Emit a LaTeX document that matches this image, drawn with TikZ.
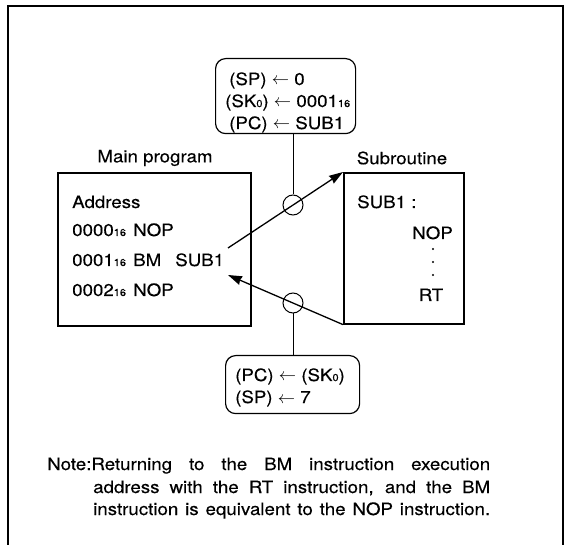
\documentclass[tikz,border=0pt]{standalone}
\usepackage{fontspec}
\setmainfont[FakeStretch=1.1,FakeBold=0.3]{TeX Gyre Heros}
\usetikzlibrary{arrows.meta}
\newcommand\smalldig[1]{{\fontsize{10}{10}\selectfont #1}}
\newcommand\larr{\ \ensuremath{\leftarrow}\ }
\begin{document}
\begin{tikzpicture}[x=1pt,y=-1pt, font=\fontsize{17}{20}\selectfont,
  box/.style={draw, line width=1.6pt, inner sep=0pt, anchor=north west},
  rbox/.style={draw, line width=1.2pt, rounded corners=10pt, inner sep=0pt, anchor=north west},
  lbl/.style={inner sep=0pt, anchor=base west},
  ring/.style={draw, circle, minimum size=20pt, inner sep=0pt, line width=1pt},
  flow/.style={line width=1.3pt, -{Stealth[length=14pt,width=9pt,inset=1pt]}},
  stem/.style={line width=0.9pt}]
\useasboundingbox (0,0) rectangle (568,545);
% outer frame (bottom edge cut off)
\draw[line width=2pt] (8,547) -- (8,6) -- (563,6) -- (563,547);

% top state box
\node[rbox, minimum width=140pt, minimum height=75pt] (tb) at (215,58) {};
\node[lbl] (t1) at (229,85) {(SP)\larr 0};
\node[lbl] (t2) at (225,107) {(SK\smalldig{0})\larr 0001\smalldig{16}};
\node[lbl] (t3) at (229,129) {(PC)\larr SUB1};

% titles
\node[inner sep=0pt] (mt) at (155,158) {Main program};
\node[inner sep=0pt] (st) at (402,158) {Subroutine};

% main program box
\node[box, minimum width=193pt, minimum height=153pt] (main) at (57,172) {};
\node[lbl] (ma) at (72,208) {Address};
\node[lbl] (m0) at (72,236) {0000\smalldig{16}\hspace{2pt} NOP};
\node[lbl] (m1) at (72,266) {0001\smalldig{16}\hspace{2pt} BM\hspace{14pt}SUB1};
\node[lbl] (m2) at (72,296) {0002\smalldig{16}\hspace{2pt} NOP};

% subroutine box
\node[box, minimum width=120pt, minimum height=151pt] (sub) at (343,172) {};
\node[lbl] (s1) at (357,208) {SUB1 :};
\node[inner sep=0pt, anchor=base east] (s2) at (453,239) {NOP};
\node[inner sep=0pt, anchor=base] (s3) at (431,301) {RT};
\foreach \yy/\nm in {249/d1,262/d2,275/d3}
  \node[circle, fill, inner sep=0pt, minimum size=2.2pt] (\nm) at (433,\yy) {};

% flow arrows
\coordinate (callfrom) at (228,248);
\coordinate (retto) at (228,275);
\draw[flow] (callfrom) -- (sub.north west);
\draw[flow] (sub.south west) -- (retto);

% rings on the arrows
\node[ring] (c1) at (293,205) {};
\node[ring] (c2) at (293,303) {};

% bottom state box
\node[rbox, minimum width=134pt, minimum height=58pt] (bb) at (225,355) {};
\node[lbl] (b1) at (235,381) {(PC)\larr (SK\smalldig{0})};
\node[lbl] (b2) at (235,403) {(SP)\larr 7};

% stems
\draw[stem] (tb.south -| c1) -- (c1.north);
\draw[stem] (c2.south) -- (bb.north -| c2);

% note
\node[lbl] (n1) at (47,470) {\makebox[443pt][s]{Note:Returning to the BM instruction execution}};
\node[lbl] (n2) at (93,493) {\makebox[397pt][s]{address with the RT instruction, and the BM}};
\node[lbl] (n3) at (93,515) {\makebox[397pt][s]{instruction is equivalent to the NOP instruction.}};
\end{tikzpicture}
\end{document}
